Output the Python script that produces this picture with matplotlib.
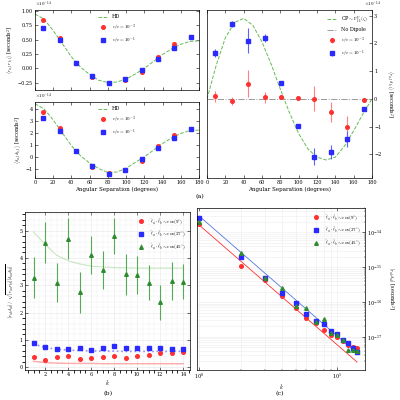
import numpy as np
import matplotlib
matplotlib.use("Agg")
import matplotlib.pyplot as plt

plt.rcParams['font.family'] = ['DejaVu Serif']
plt.rcParams['mathtext.fontset'] = 'cm'
plt.rcParams['font.size'] = 4

# Panel (a) data
ang = [9, 27, 45, 63, 81, 99, 117, 135, 153, 171]
curve_ang = list(range(0, 181, 10))
hd_top = [0.95, 0.86, 0.66, 0.43, 0.20, 0.02, -0.11, -0.21, -0.25, -0.24, -0.19, -0.10, 0.0, 0.12, 0.24, 0.34, 0.42, 0.47, 0.48]
hd_bot = [4.4, 3.98, 3.06, 1.99, 0.93, 0.09, -0.51, -0.97, -1.3, -1.25, -0.95, -0.46, 0.0, 0.56, 1.11, 1.57, 1.94, 2.18, 2.22]
rr_red = [0.84, 0.53, 0.09, -0.16, -0.25, -0.20, -0.06, 0.19, 0.42, 0.54]
rr_blue = [0.70, 0.49, 0.09, -0.14, -0.26, -0.19, -0.03, 0.17, 0.36, 0.55]
dd_red = [3.7, 2.4, 0.5, -0.85, -1.35, -1.1, -0.3, 0.9, 1.8, 2.35]
dd_blue = [3.2, 2.15, 0.5, -0.75, -1.45, -1.05, -0.2, 0.75, 1.6, 2.35]
cp_curve = [0, 1.2, 2.2, 2.75, 2.9, 2.65, 2.05, 1.25, 0.35, -0.5, -1.25, -1.8, -2.1, -2.2, -2.1, -1.7, -1.15, -0.55, 0]
rd_blue = [1.65, 2.7, 2.1, 2.2, 0.58, -0.98, -2.08, -1.92, -1.45, -0.38]
rd_blue_err = [0.15, 0.1, 0.45, 0.15, 0.05, 0.04, 0.3, 0.25, 0.3, 0.05]
rd_red = [0.1, -0.08, 0.55, 0.05, 0.05, 0.02, 0.0, -0.47, -1.0, -0.05]
rd_red_err = [0.2, 0.15, 0.5, 0.2, 0.05, 0.03, 0.45, 0.35, 0.4, 0.05]

# Panel (b) data
k = list(range(1, 15))
b_green = [3.27, 4.55, 3.1, 4.7, 2.75, 4.1, 3.55, 4.8, 3.4, 3.37, 3.1, 2.37, 3.15, 3.13]
b_green_err = [0.75, 0.75, 0.7, 0.75, 0.75, 0.7, 0.7, 0.65, 0.75, 0.7, 0.65, 0.65, 0.7, 0.65]
b_green_curve = [4.95, 4.5, 4.1, 3.9, 3.78, 3.7, 3.67, 3.65, 3.64, 3.63, 3.63, 3.63, 3.63, 3.63]
b_blue = [0.87, 0.73, 0.68, 0.67, 0.72, 0.62, 0.7, 0.76, 0.69, 0.72, 0.7, 0.72, 0.68, 0.66]
b_blue_curve = [0.85, 0.72, 0.66, 0.63, 0.61, 0.6, 0.59, 0.59, 0.58, 0.58, 0.58, 0.58, 0.58, 0.58]
b_red = [0.37, 0.28, 0.38, 0.4, 0.32, 0.33, 0.37, 0.4, 0.33, 0.42, 0.46, 0.52, 0.52, 0.55]
b_red_curve = [0.22, 0.17, 0.15, 0.14, 0.14, 0.14, 0.13, 0.13, 0.13, 0.13, 0.13, 0.13, 0.13, 0.13]

# Panel (c) data
c_blue = [2.6e-14, 2e-15, 4.8e-16, 1.8e-16, 9.3e-17, 4.6e-17, 2.9e-17, 2.4e-17, 1.5e-17, 1.2e-17, 8.2e-18, 6.6e-18, 4.7e-18, 3.6e-18]
c_red = [1.7e-14, 1.1e-15, 4.4e-16, 1.5e-16, 6.7e-17, 3.6e-17, 2.5e-17, 1.6e-17, 1.1e-17, 1e-17, 7.7e-18, 5.8e-18, 5e-18, 4.7e-18]
c_green = [2e-14, 2.5e-15, 5e-16, 2.5e-16, 7.7e-17, 6.8e-17, 2.7e-17, 3.3e-17, 1.3e-17, 1.1e-17, 8e-18, 4.3e-18, 4.3e-18, 4e-18]
c_line_k = [1, 14]
c_blue_line = [2.9e-14, 3.4e-18]
c_red_line = [1.6e-14, 1.9e-18]

RED = '#ff3030'; BLUE = '#2a2aff'; GREEN = '#2e8b2e'; LG = '#66bb55'

fig = plt.figure(figsize=(4, 4), dpi=100)

def style(ax):
    ax.tick_params(direction='in', length=2, width=0.4, labelsize=3.5, pad=1.5, top=True, right=True)
    for s in ax.spines.values():
        s.set_linewidth(0.5)

# Top-left
ax1 = fig.add_axes([0.0875, 0.775, 0.41, 0.2])
ax1.plot(curve_ang, hd_top, '--', color=LG, lw=0.7, label='HD')
ax1.plot(ang, rr_red, 'o', color=RED, ms=2.6, label=r'$v/c=10^{-3}$')
ax1.plot(ang, rr_blue, 's', color=BLUE, ms=2.6, label=r'$v/c=10^{-1}$')
ax1.set_xlim(0, 180); ax1.set_ylim(-0.38, 1.02)
ax1.set_yticks([-0.25, 0, 0.25, 0.5, 0.75, 1.0])
ax1.set_yticklabels(['−0.25', '0.00', '0.25', '0.50', '0.75', '1.00'])
ax1.set_xticks(range(0, 181, 20)); ax1.set_xticklabels([])
ax1.set_ylabel(r'$\langle r_{a,l}\, r_{b,l}\rangle$ [seconds$^2$]', fontsize=3.5, labelpad=1)
ax1.text(0, 1.01, r'$\times10^{-14}$', transform=ax1.transAxes, fontsize=3.5, va='bottom')
ax1.legend(loc='upper center', fontsize=3.5, frameon=False, handlelength=2)
style(ax1)

ax2 = fig.add_axes([0.0875, 0.555, 0.41, 0.19])
ax2.plot(curve_ang, hd_bot, '--', color=LG, lw=0.7, label='HD')
ax2.plot(ang, dd_red, 'o', color=RED, ms=2.6, label=r'$v/c=10^{-3}$')
ax2.plot(ang, dd_blue, 's', color=BLUE, ms=2.6, label=r'$v/c=10^{-1}$')
ax2.set_xlim(0, 180); ax2.set_ylim(-1.75, 4.55)
ax2.set_xticks(range(0, 181, 20))
ax2.set_yticks([-1, 0, 1, 2, 3, 4]); ax2.set_yticklabels(['−1', '0', '1', '2', '3', '4'])
ax2.set_xlabel('Angular Separation (degrees)', fontsize=4, labelpad=1)
ax2.set_ylabel(r'$\langle \delta_{a,l}\, \delta_{b,l}\rangle$ [seconds$^2$]', fontsize=3.5, labelpad=1)
ax2.text(0, 1.01, r'$\times10^{-14}$', transform=ax2.transAxes, fontsize=3.5, va='bottom')
ax2.legend(loc='upper center', fontsize=3.5, frameon=False, handlelength=2)
style(ax2)

# Right (a)
ax3 = fig.add_axes([0.5175, 0.555, 0.4125, 0.42])
ax3.plot(curve_ang, cp_curve, '--', color=LG, lw=0.7, label=r'CP$\sim\Gamma^{V}_{11}(\zeta)$')
ax3.axhline(0, color='#999999', ls='-.', lw=0.7, label='No Dipole')
ax3.errorbar(ang, rd_red, yerr=rd_red_err, fmt='o', color=RED, ms=2.6, elinewidth=0.8, ecolor='#ff8080', label=r'$v/c=10^{-3}$')
ax3.errorbar(ang, rd_blue, yerr=rd_blue_err, fmt='s', color=BLUE, ms=2.6, elinewidth=0.8, ecolor='#6060ff', label=r'$v/c=10^{-1}$')
ax3.set_xlim(0, 180); ax3.set_ylim(-2.85, 3.2)
ax3.set_xticks(range(0, 181, 20))
ax3.yaxis.tick_right(); ax3.yaxis.set_label_position('right')
ax3.set_yticks([-2, -1, 0, 1, 2, 3]); ax3.set_yticklabels(['−2', '−1', '0', '1', '2', '3'])
ax3.set_ylabel(r'$\langle r_{a,l}\, \delta_{b,l}\rangle$ [seconds$^2$]', fontsize=3.5, labelpad=2, rotation=270, va='bottom')
ax3.set_xlabel('Angular Separation (degrees)', fontsize=4, labelpad=1)
ax3.text(1.0, 1.005, r'$\times10^{-14}$', transform=ax3.transAxes, fontsize=3.5, va='bottom', ha='center')
ax3.legend(loc='upper right', fontsize=3.5, frameon=False, handlelength=2)
style(ax3)
ax3.tick_params(labelleft=False, labelright=True)

fig.text(0.5, 0.505, '(a)', ha='center', fontsize=4.5)

# Panel (b)
ax4 = fig.add_axes([0.0625, 0.075, 0.4125, 0.395])
ax4.grid(True, color='#e6e6e6', lw=0.4)
ax4.minorticks_on(); ax4.grid(True, which='minor', color='#f0f0f0', lw=0.3)
ax4.plot(k, b_green_curve, '-', color=LG, lw=0.8, alpha=0.35)
ax4.plot(k, b_blue_curve, ':', color=BLUE, lw=1.2, alpha=0.5)
ax4.plot(k, b_red_curve, '-', color=RED, lw=1.0, alpha=0.4)
ax4.plot(k, b_red, 'o', color=RED, ms=2.6, label=r'$\hat{\ell}_a\cdot\hat{\ell}_b\sim\cos(9^{\circ})$')
ax4.plot(k, b_blue, 's', color=BLUE, ms=2.6, label=r'$\hat{\ell}_a\cdot\hat{\ell}_b\sim\cos(27^{\circ})$')
ax4.errorbar(k, b_green, yerr=b_green_err, fmt='^', color=GREEN, ms=2.6, elinewidth=0.8, ecolor='#55aa55', label=r'$\hat{\ell}_a\cdot\hat{\ell}_b\sim\cos(45^{\circ})$')
ax4.set_xlim(0.26, 14.6); ax4.set_ylim(-0.1, 5.68)
ax4.set_xticks(range(2, 15, 2))
ax4.set_xlabel(r'$k$', fontsize=4, labelpad=0.5)
ax4.set_ylabel(r'$|r_{ab}\delta_{ab}|\,/\,\sqrt{|r_{aa}r_{bb}||\delta_{aa}\delta_{bb}|}$', fontsize=3.5, labelpad=1)
ax4.legend(loc='upper right', fontsize=3.5, frameon=False)
style(ax4)
fig.text(0.27, 0.012, '(b)', ha='center', fontsize=4.5)

# Panel (c)
ax5 = fig.add_axes([0.4925, 0.075, 0.42, 0.405])
ax5.set_xscale('log'); ax5.set_yscale('log')
ax5.grid(True, which='both', color='#ececec', lw=0.4)
ax5.plot(c_line_k, c_blue_line, '-', color='#5577dd', lw=0.6)
ax5.plot(c_line_k, c_red_line, '-', color=RED, lw=0.6)
ax5.plot(k, c_red, 'o', color=RED, ms=2.6, label=r'$\hat{\ell}_a\cdot\hat{\ell}_b\sim\cos(9^{\circ})$')
ax5.plot(k, c_blue, 's', color=BLUE, ms=2.6, label=r'$\hat{\ell}_a\cdot\hat{\ell}_b\sim\cos(27^{\circ})$')
ax5.plot(k, c_green, '^', color=GREEN, ms=2.6, label=r'$\hat{\ell}_a\cdot\hat{\ell}_b\sim\cos(45^{\circ})$')
ax5.set_xlim(0.96, 16); ax5.set_ylim(10**-17.95, 10**-13.3)
ax5.yaxis.tick_right(); ax5.yaxis.set_label_position('right')
ax5.set_xlabel(r'$k$', fontsize=4, labelpad=0.5)
ax5.set_ylabel(r'$|r_{ab}\delta_{ab}|$ [seconds$^2$]', fontsize=3.5, rotation=270, va='bottom', labelpad=2)
ax5.legend(loc='upper right', fontsize=3.5, frameon=False)
style(ax5)
ax5.tick_params(which='minor', direction='in', length=1, width=0.3, top=True, right=True)
ax5.tick_params(labelleft=False, labelright=True)
fig.text(0.70, 0.012, '(c)', ha='center', fontsize=4.5)

fig.savefig('out.png', dpi=100)
